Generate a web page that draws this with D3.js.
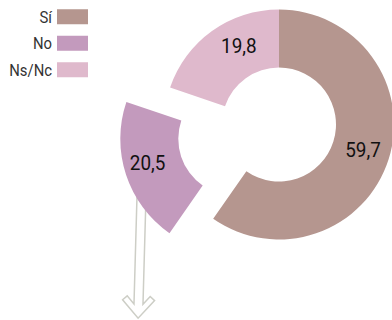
<!DOCTYPE html>
<html>
<head>
<meta charset="utf-8">
<script src="https://cdn.jsdelivr.net/npm/d3@7"></script>
<style>
  html, body { margin: 0; padding: 0; background: #ffffff; }
  svg { display: block; }
  text { font-family: Roboto, "Liberation Sans", sans-serif; }
</style>
</head>
<body>
<svg id="chart" width="392" height="320"></svg>
<script>
// ---- data ----
const categories = ["Sí", "No", "Ns/Nc"];
const values = [59.7, 20.5, 19.8];
const valueLabels = ["59,7", "20,5", "19,8"];
const explodedCategory = "No";

// ---- style / layout ----
const colors = ["#b5968f", "#c39abd", "#dfb9cc"];
const labelNudge = { "Sí": [2, -1], "No": [-6, -3], "Ns/Nc": [10, -8.5] };
const width = 392, height = 320;
const cx = 279, cy = 124.5;
const innerR = 57, outerR = 115;
const explodeDist = 46;
const textScale = 0.9;

const svg = d3.select("#chart");
const color = d3.scaleOrdinal().domain(categories).range(colors);

const pie = d3.pie().sort(null).value(d => d.value)
  .startAngle(0).endAngle(2 * Math.PI);
const data = pie(categories.map((c, i) => ({ cat: c, value: values[i], label: valueLabels[i] })));
const arc = d3.arc().innerRadius(innerR).outerRadius(outerR);

function offset(d) {
  if (d.data.cat !== explodedCategory) return [0, 0];
  const a = (d.startAngle + d.endAngle) / 2;
  return [Math.sin(a) * explodeDist, -Math.cos(a) * explodeDist];
}

const g = svg.append("g").attr("transform", `translate(${cx},${cy})`);

// ---- arrow annotation (drawn first, emerges from under the exploded slice) ----
const exp = data.find(d => d.data.cat === explodedCategory);
const eo = offset(exp);
const ec = arc.centroid(exp);
const tip = [ec[0] + eo[0] - 15.5, ec[1] + eo[1] + 152.5];
const arrowLen = 140, shaftHW = 4.5;
const arrowPts = [
  [-shaftHW, -arrowLen], [-shaftHW, -14.1], [-11.5, -22], [-16, -18], [0, 0],
  [16, -18], [11.5, -22], [shaftHW, -14.1], [shaftHW, -arrowLen]
];
g.append("path")
  .attr("d", d3.line()(arrowPts) + "Z")
  .attr("transform", `translate(${tip[0]},${tip[1]}) rotate(1.6)`)
  .attr("fill", "#ffffff")
  .attr("stroke", "#cdcec6")
  .attr("stroke-width", 1.5)
  .attr("stroke-linejoin", "miter");

// ---- slices ----
const slices = g.selectAll("g.slice").data(data).join("g")
  .attr("class", "slice")
  .attr("transform", d => { const o = offset(d); return `translate(${o[0]},${o[1]})`; });

slices.append("path")
  .attr("d", arc)
  .attr("fill", d => color(d.data.cat));

slices.append("text")
  .attr("transform", d => {
    const c = arc.centroid(d), n = labelNudge[d.data.cat];
    return `translate(${c[0] + n[0]},${c[1] + n[1]}) scale(${textScale},1)`;
  })
  .attr("text-anchor", "middle")
  .attr("dominant-baseline", "central")
  .attr("font-size", 21)
  .attr("fill", "#111111")
  .text(d => d.data.label);

// ---- legend ----
const legendY = d3.scaleBand().domain(categories).range([3.5, 83]).padding(0);
const legend = svg.append("g").selectAll("g").data(categories).join("g")
  .attr("transform", d => `translate(0,${legendY(d) + legendY.bandwidth() / 2})`);
legend.append("rect")
  .attr("x", 57).attr("y", -7.5).attr("width", 31).attr("height", 15)
  .attr("fill", d => color(d));
legend.append("text")
  .attr("transform", `translate(52,0) scale(${textScale},1)`)
  .attr("text-anchor", "end")
  .attr("dominant-baseline", "central")
  .attr("font-size", 16.5)
  .attr("fill", "#333333")
  .text(d => d);
</script>
</body>
</html>
